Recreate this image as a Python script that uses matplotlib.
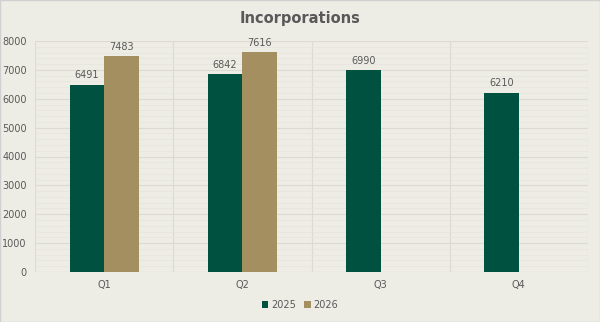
import matplotlib.pyplot as plt
import matplotlib.ticker as ticker
import numpy as np

quarters = ["Q1", "Q2", "Q3", "Q4"]
vals_2025 = [6491, 6842, 6990, 6210]
vals_2026 = [7483, 7616, None, None]

bg = "#EDECE5"
green = "#00513F"
tan = "#A38F5F"
txt = "#595959"

fig = plt.figure(figsize=(6, 3.22), dpi=100, facecolor=bg)
ax = fig.add_axes([35/600, 50/322, 553/600, 231/322], facecolor=bg)

x = np.arange(len(quarters))
w = 0.25
b1 = ax.bar(x - w/2, vals_2025, w, color=green, label="2025", zorder=3)
x2 = [i + w/2 for i, v in enumerate(vals_2026) if v is not None]
v2 = [v for v in vals_2026 if v is not None]
b2 = ax.bar(x2, v2, w, color=tan, label="2026", zorder=3)

for bars in (b1, b2):
    for r in bars:
        ax.text(r.get_x() + r.get_width()/2, r.get_height() + 150, f"{int(r.get_height())}",
                ha="center", va="bottom", fontsize=7, color=txt)

ax.set_xlim(-0.5, 3.5)
ax.set_ylim(0, 8000)
ax.set_xticks(x)
ax.set_xticklabels(quarters)
ax.yaxis.set_major_locator(ticker.MultipleLocator(1000))
ax.yaxis.set_minor_locator(ticker.MultipleLocator(200))
ax.tick_params(axis="both", which="both", length=0, labelsize=7, labelcolor=txt)
ax.tick_params(axis="x", pad=6)
ax.tick_params(axis="y", pad=6)
ax.grid(axis="y", which="major", color="#DCDAD2", linewidth=0.8, zorder=0)
ax.grid(axis="y", which="minor", color="#E6E4DD", linewidth=0.5, zorder=0)
for xv in [-0.5, 0.5, 1.5, 2.5, 3.5]:
    ax.axvline(xv, color="#DCDAD2", linewidth=0.8, zorder=0)
for s in ax.spines.values():
    s.set_visible(False)
ax.axhline(0, color="#D5D3CB", linewidth=0.8, zorder=1)

fig.suptitle("Incorporations", y=0.965, fontsize=10.5, fontweight="bold", color=txt)
fig.legend(loc="lower center", bbox_to_anchor=(0.5, 0.01), ncol=2, frameon=False,
           fontsize=7, labelcolor=txt, handlelength=0.7, handleheight=0.7,
           handletextpad=0.3, columnspacing=0.8)

fig.patches.append(plt.Rectangle((0, 0), 1, 1, transform=fig.transFigure,
                                 fill=False, edgecolor="#D0D0D0", linewidth=1))
fig.savefig("out.png", dpi=100, facecolor=bg)
